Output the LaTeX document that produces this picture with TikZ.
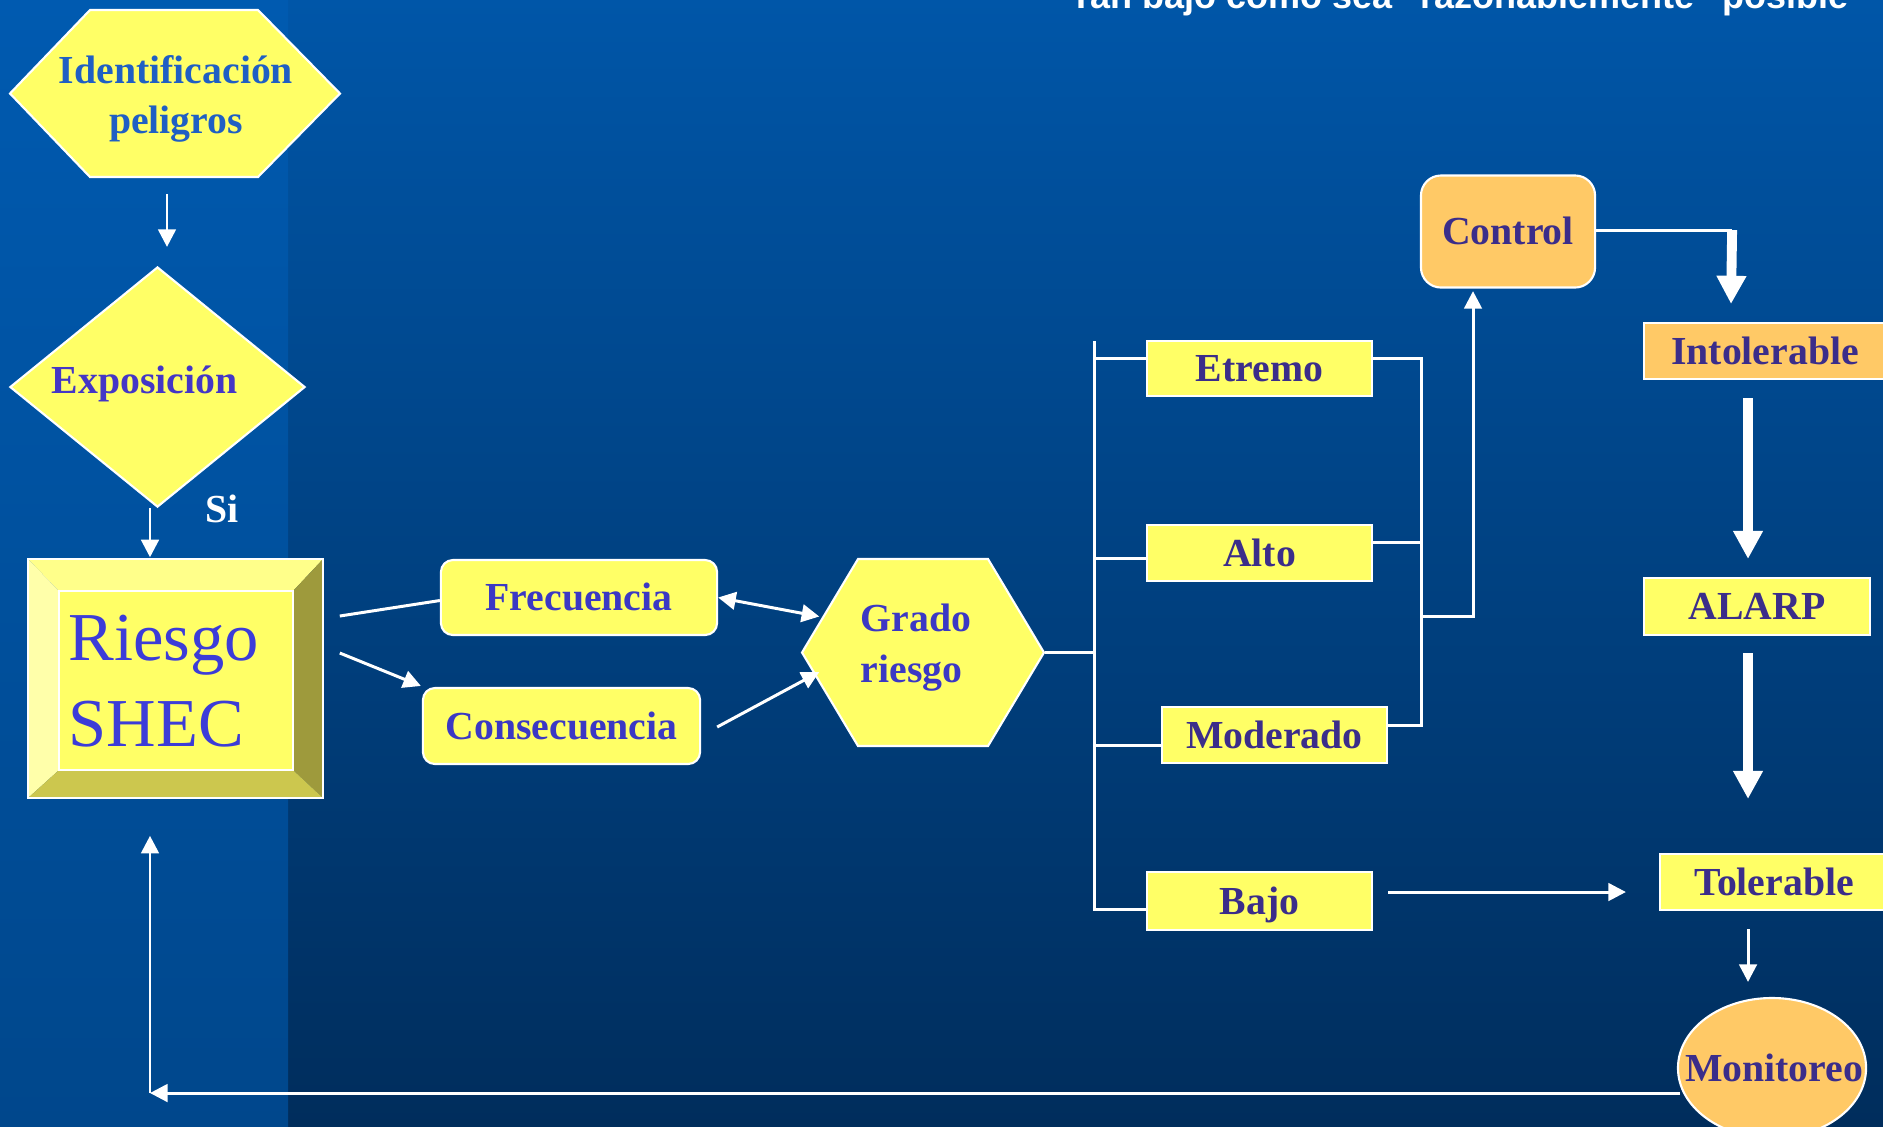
\documentclass[tikz,border=0pt]{standalone}
\usepackage{fontspec}
\setmainfont{Liberation Serif}
\newfontfamily\titlefont{Liberation Sans}
\usetikzlibrary{calc,arrows.meta,shapes.geometric}
\definecolor{bgtop}{HTML}{0056A8}
\definecolor{bgbot}{HTML}{002D5C}
\definecolor{striptop}{HTML}{005AB0}
\definecolor{stripbot}{HTML}{00478C}
\definecolor{boxy}{HTML}{FFFF66}
\definecolor{boxo}{HTML}{FFC966}
\definecolor{txtA}{HTML}{3B38C4}
\definecolor{txtB}{HTML}{3B2D8A}
\definecolor{txtI}{HTML}{1F5FC4}
\definecolor{txtR}{HTML}{3C3CD8}
\definecolor{txtE}{HTML}{4436C6}
\definecolor{bvtop}{HTML}{FFFF8A}
\definecolor{bvleft}{HTML}{FFFFAA}
\definecolor{bvright}{HTML}{9E9A3C}
\definecolor{bvbot}{HTML}{CCC74E}
\begin{document}
\begin{tikzpicture}[x=0.01cm,y=-0.01cm,
  bf/.style={font=\fontsize{11.3}{13.5}\selectfont\bfseries},
  box/.style={bf, draw=white, line width=0.6pt, inner sep=0pt, text height=7.5pt, text depth=0pt, text=txtB},
  ybox/.style={box, fill=boxy},
  obox/.style={box, fill=boxo},
  lbl/.style={bf, inner sep=0pt, anchor=base},
  anchorbox/.style={inner sep=0pt, draw=none},
  conn/.style={draw=white, line width=0.85pt},
  arr/.style={conn, -{Triangle[length=5pt,width=5pt]}},
  darr/.style={conn, {Triangle[length=5pt,width=5pt]}-{Triangle[length=5pt,width=5pt]}},
  fat/.style={draw=white, line width=2.8pt, -{Triangle[length=8pt,width=8pt]}},
]
\useasboundingbox (0,0) rectangle (1883,1126);
\clip (0,0) rectangle (1883,1126);
% background
\shade[top color=bgtop, bottom color=bgbot] (0,0) rectangle (1883,1126);
\shade[top color=striptop, bottom color=stripbot] (0,0) rectangle (288,1126);

% title (cut at top)
\node[anchor=base west, inner sep=0pt, text=white, font=\titlefont\fontsize{10.24}{12}\selectfont\bfseries] (title) at (1070,8) {Tan bajo como sea “razonablemente” posible};

% Identificacion hexagon
\node[anchorbox, minimum width=3.3cm, minimum height=1.67cm] (ident) at (175,93.5) {};
\filldraw[fill=boxy, draw=white, line width=0.6pt] (10,93.5) -- (90,10) -- (258,10) -- (340,93.5) -- (258,177) -- (90,177) -- cycle;
\node[lbl, text=txtI] (ident1) at (176,83) {Identificación};
\node[lbl, text=txtI] (ident2) at (176,133) {peligros};

% Exposicion diamond
\node[diamond, fill=boxy, draw=white, line width=0.6pt, inner sep=0pt, minimum width=2.95cm, minimum height=2.4cm] (expo) at (157.5,387) {};
\node[lbl, text=txtE] (expotxt) at (144.5,393) {Exposición};
\node[lbl, text=white] (si) at (222,522) {Si};

% Riesgo SHEC bevel box
\node[anchorbox, minimum width=2.95cm, minimum height=2.39cm] (riesgo) at (175.5,678.5) {};
\fill[bvtop] (28,559) -- (323,559) -- (293,591) -- (59,591) -- cycle;
\fill[bvleft] (28,559) -- (59,591) -- (59,770) -- (28,798) -- cycle;
\fill[bvright] (323,559) -- (323,798) -- (293,770) -- (293,591) -- cycle;
\fill[bvbot] (28,798) -- (59,770) -- (293,770) -- (323,798) -- cycle;
\fill[boxy] (59,591) rectangle (293,770);
\draw[white, line width=0.6pt] (28,559) rectangle (323,798);
\draw[white, line width=0.6pt] (59,591) rectangle (293,770);
\node[inner sep=0pt, anchor=base west, text=txtR, font=\fontsize{19.5}{23}\selectfont] (riesgo1) at (68,660) {Riesgo};
\node[inner sep=0pt, anchor=base west, text=txtR, font=\fontsize{19.5}{23}\selectfont] (riesgo2) at (68,746) {SHEC};

% Frecuencia / Consecuencia
\node[ybox, text=txtA, rounded corners=0.12cm, minimum width=2.76cm, minimum height=0.75cm] (frec) at (579,597.5) {Frecuencia};
\node[ybox, text=txtA, rounded corners=0.12cm, minimum width=2.77cm, minimum height=0.76cm] (conse) at (561.5,726) {Consecuencia};

% Grado riesgo hexagon
\node[anchorbox, minimum width=2.42cm, minimum height=1.87cm] (grado) at (923,652.5) {};
\filldraw[fill=boxy, draw=white, line width=0.6pt] (802,652.5) -- (858,559) -- (988,559) -- (1044,652.5) -- (988,746) -- (858,746) -- cycle;
\node[lbl, anchor=base west, text=txtA] (grado1) at (860,631) {Grado};
\node[lbl, anchor=base west, text=txtA] (grado2) at (860,682) {riesgo};

% level boxes
\node[ybox, minimum width=2.25cm, minimum height=0.55cm] (etremo) at (1259.5,368.5) {Etremo};
\node[ybox, minimum width=2.25cm, minimum height=0.56cm] (alto) at (1259.5,553) {Alto};
\node[ybox, minimum width=2.25cm, minimum height=0.56cm] (moder) at (1274.5,735) {Moderado};
\node[ybox, minimum width=2.25cm, minimum height=0.58cm] (bajo) at (1259.5,901) {Bajo};

% right column
\node[obox, rounded corners=0.2cm, minimum width=1.74cm, minimum height=1.12cm] (control) at (1508,231.5) {Control};
\node[obox, minimum width=2.42cm, minimum height=0.56cm] (intol) at (1765,351) {Intolerable};
\node[ybox, minimum width=2.26cm, minimum height=0.57cm] (alarp) at (1757,606.5) {ALARP};
\node[ybox, minimum width=2.28cm, minimum height=0.56cm] (toler) at (1774,882) {Tolerable};
\node[ellipse, fill=boxo, draw=white, line width=0.6pt, inner sep=0pt, minimum width=1.88cm, minimum height=1.4cm] (monit) at (1772,1068) {};
\node[box, draw=none, fill=none] (monittxt) at (1774,1068) {Monitoreo};

% connectors, left column
\draw[arr] ($(ident.south)+(-8,16)$) -- ($(expo.north)+(9.5,-19)$);
\draw[arr] ($(expo.south)+(-7.5,0)$) -- ($(riesgo.north)+(-25.5,-1)$);
\draw[conn] ($(riesgo.east)+(16,-62.5)$) -- ($(frec.west)+(0,3)$);
\draw[arr] ($(riesgo.east)+(16,-25.5)$) -- ($(conse.north west)+(-1,-1)$);
\draw[darr] (frec.east) -- ($(grado.west)+(18,-36)$);
\draw[arr] ($(conse.east)+(16,1)$) -- ($(grado.west)+(18,19.5)$);

% left bus
\coordinate (bustop) at (1094,341);
\coordinate (le) at ($(etremo.west)+(0,-10.5)$);
\coordinate (la) at ($(alto.west)+(0,5)$);
\coordinate (lm) at ($(moder.west)+(0,10)$);
\coordinate (lb) at ($(bajo.west)+(0,8)$);
\draw[conn] (bustop) -- (lb -| bustop) -- (lb);
\draw[conn] (grado.east) -- (grado.east -| bustop);
\draw[conn] (le) -- (le -| bustop);
\draw[conn] (la) -- (la -| bustop);
\draw[conn] (lm) -- (lm -| bustop);

% right bus
\coordinate (rbx) at (1421,0);
\coordinate (re) at ($(etremo.east)+(0,-10.5)$);
\coordinate (ra) at ($(alto.east)+(0,-11)$);
\coordinate (rm) at ($(moder.east)+(0,-10)$);
\coordinate (rbr) at (1421,616);
\draw[conn] (re) -- (re -| rbx) -- (rm -| rbx) -- (rm);
\draw[conn] (ra) -- (ra -| rbx);
\draw[arr] (rbr) -| ($(control.south)+(-35,2.5)$);

% control to intolerable and down the column
\coordinate (cturn) at ($(control.east)+(136,-1.5)$);
\draw[conn] ($(control.east)+(0,-1.5)$) -- (cturn);
\draw[fat] (cturn) -- ($(intol.north)+(-34,-18)$);
\draw[fat] ($(intol.south)+(-17,18)$) -- ($(alarp.north)+(-9,-18)$);
\draw[fat] ($(alarp.south)+(-9,17)$) -- ($(toler.north)+(-26,-54)$);
\draw[arr] ($(toler.south)+(-26,18)$) -- ($(monit.north)+(-24,-15)$);
\draw[arr] ($(bajo.east)+(15,-9)$) -- ($(toler.west)+(-33,10)$);

% feedback loop
\coordinate (fb) at (150,1093);
\draw[arr] ($(monit.west)+(3,25)$) -- (fb);
\draw[arr] (fb) -- ($(riesgo.south)+(-25.5,37)$);
\end{tikzpicture}
\end{document}
